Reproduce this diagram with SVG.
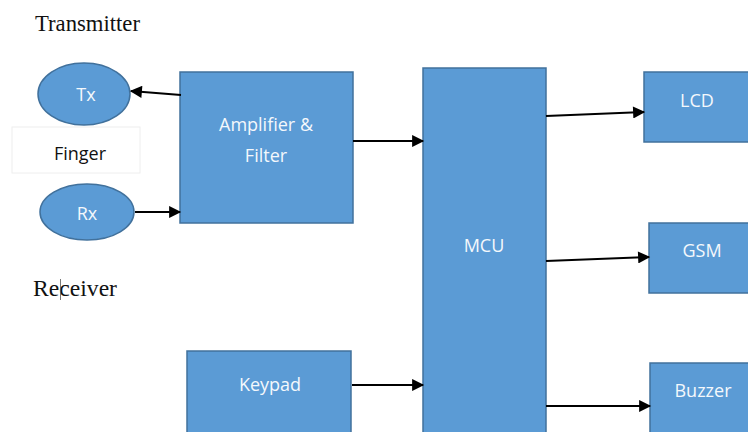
<svg xmlns="http://www.w3.org/2000/svg" width="748" height="432" viewBox="0 0 748 432">
<style>
.box{fill:#5B9BD5;stroke:#41719C;stroke-width:1.5}
.lbl{font-family:"Open Sans","Liberation Sans",sans-serif;font-size:18px;fill:#F4F8FC;text-anchor:middle}
.cap{font-family:"Liberation Serif",serif;font-size:23px;fill:#111}
.conn{stroke:#000;stroke-width:2.2;fill:none;marker-end:url(#ah)}
</style>
<defs>
<marker id="ah" viewBox="0 0 10 10" refX="9" refY="5" markerWidth="6" markerHeight="5.5" orient="auto" markerUnits="strokeWidth">
<path d="M0,0 L10,5 L0,10 z" fill="#000"/>
</marker>
</defs>
<rect width="748" height="432" fill="#fff"/>
<text class="cap" x="35" y="31" textLength="105" lengthAdjust="spacingAndGlyphs">Transmitter</text>
<g id="receiver-label">
<text class="cap" x="33" y="296" textLength="84" lengthAdjust="spacingAndGlyphs">Receiver</text>
<line x1="60.5" y1="279" x2="60.5" y2="300" stroke="#555" stroke-width="0.8"/>
</g>
<g id="tx"><ellipse class="box" cx="84" cy="94" rx="46" ry="31"/><text class="lbl" x="86" y="101">Tx</text></g>
<g id="finger"><rect x="12" y="127" width="128" height="46" fill="#fff" stroke="#eeeeee" stroke-width="1"/><text x="80" y="160" font-family="'Open Sans','Liberation Sans',sans-serif" font-size="18" fill="#111" text-anchor="middle">Finger</text></g>
<g id="rx"><ellipse class="box" cx="87" cy="212" rx="47" ry="28"/><text class="lbl" x="87" y="220">Rx</text></g>
<g id="amp"><rect class="box" x="180" y="72" width="173" height="151"/><text class="lbl" x="266" y="131">Amplifier &amp;</text><text class="lbl" x="266" y="162">Filter</text></g>
<g id="keypad"><rect class="box" x="187" y="351" width="164" height="90"/><text class="lbl" x="270" y="391">Keypad</text></g>
<g id="mcu"><rect class="box" x="423" y="68" width="123" height="372"/><text class="lbl" x="484" y="252">MCU</text></g>
<g id="lcd"><rect class="box" x="644" y="72" width="110" height="70"/><text class="lbl" x="697" y="107">LCD</text></g>
<g id="gsm"><rect class="box" x="649" y="223" width="105" height="70"/><text class="lbl" x="702" y="257">GSM</text></g>
<g id="buzzer"><rect class="box" x="650" y="363" width="104" height="80"/><text class="lbl" x="703" y="397">Buzzer</text></g>
<g id="connectors">
<line class="conn" x1="181" y1="95" x2="131" y2="91"/>
<line class="conn" x1="135" y1="212" x2="180" y2="212"/>
<line class="conn" x1="353" y1="141" x2="423" y2="141"/>
<line class="conn" x1="352" y1="385" x2="423" y2="385"/>
<line class="conn" x1="546" y1="116" x2="644" y2="112"/>
<line class="conn" x1="546" y1="261" x2="649" y2="257"/>
<line class="conn" x1="546" y1="406" x2="650" y2="406"/>
</g>
</svg>
